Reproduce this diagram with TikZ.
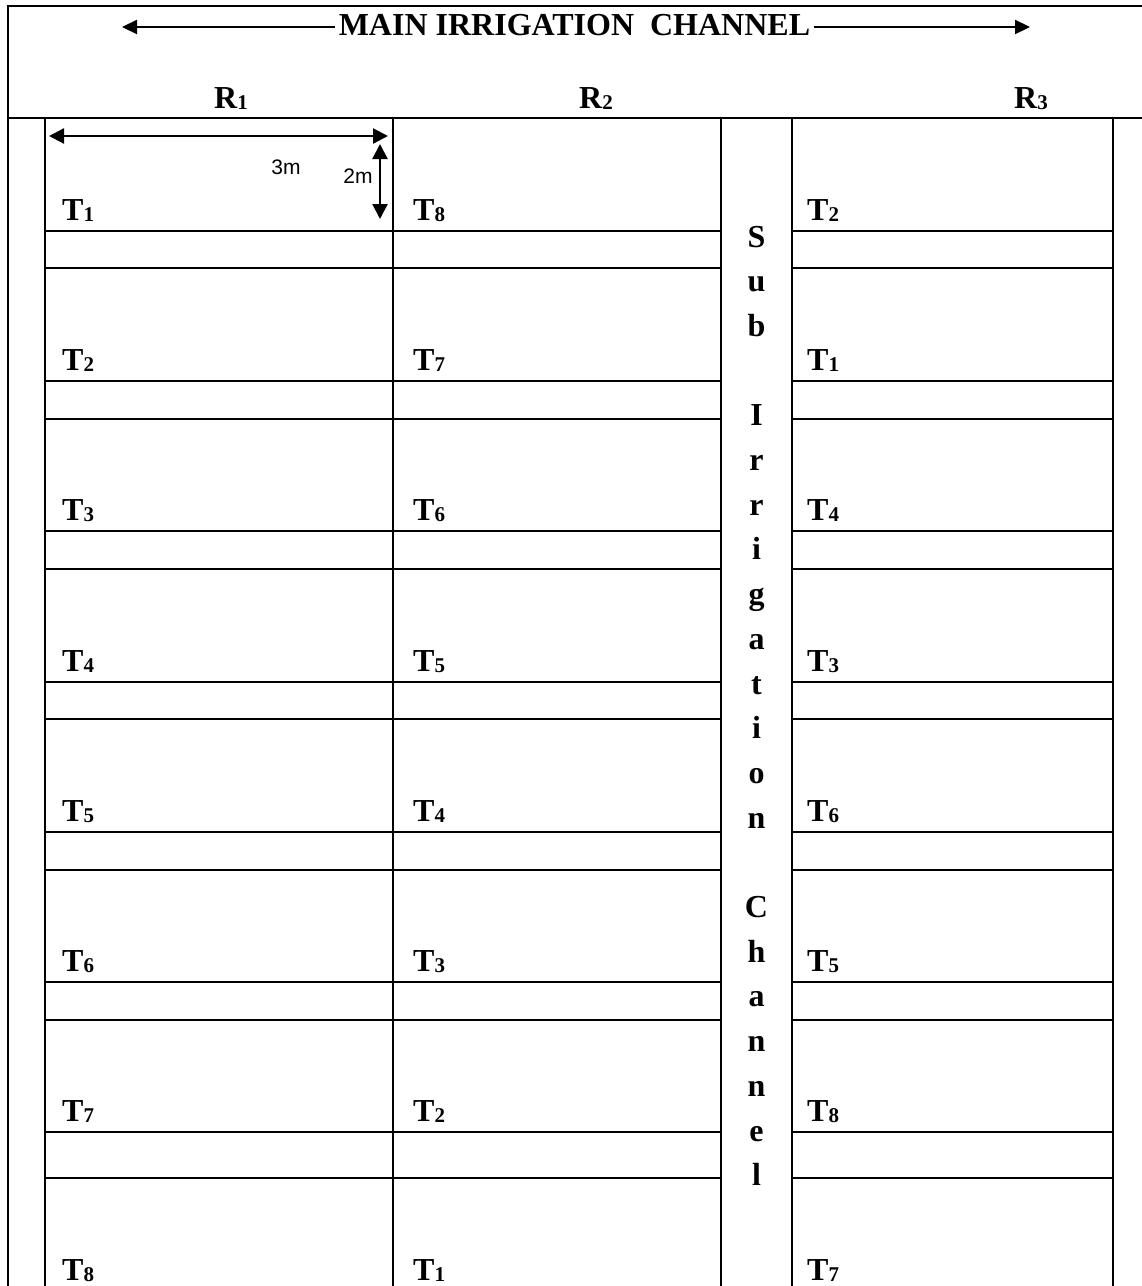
\documentclass[tikz,border=0pt]{standalone}
\usepackage{fontspec}
\setmainfont{Liberation Serif}
\newfontfamily\arialfont{Liberation Sans}
\usetikzlibrary{arrows.meta}
\newcommand\tsub[1]{\raisebox{-1pt}{\fontsize{21}{21}\selectfont #1}}
\begin{document}
\begin{tikzpicture}[x=1pt,y=-1pt,
  rule/.style={line width=2.3pt},
  dimarrow/.style={line width=2.2pt,{Triangle[length=15pt,width=15pt]}-{Triangle[length=15pt,width=15pt]}},
  headarrow/.style={line width=2.2pt,-{Triangle[length=15pt,width=14pt]}},
  tlabel/.style={anchor=base west,inner sep=0pt,font=\fontsize{32}{32}\selectfont\bfseries},
  rlabel/.style={anchor=base,inner sep=0pt,font=\fontsize{32}{32}\selectfont\bfseries},
  chletter/.style={anchor=base,inner sep=0pt,font=\fontsize{32}{32}\selectfont\bfseries},
  dimtext/.style={anchor=base,inner sep=0pt,font=\arialfont\fontsize{21}{21}\selectfont}]
\useasboundingbox (0,0) rectangle (1142,1286);
\begin{scope}
\clip (0,0) rectangle (1142,1286);
% outer frame and header
\draw[rule] (8,1290) -- (8,6) -- (1146,6);
\draw[rule] (8,118) -- (1146,118);
% columns
\foreach \x in {45,393,721,792,1113}
  \draw[rule] (\x,118) -- (\x,1290);
% plot and strip lines
\foreach \y in {231,268,381,419,531,569,682,719,832,870,982,1020,1132,1178}{
  \draw[rule] (45,\y) -- (721,\y);
  \draw[rule] (792,\y) -- (1113,\y);
}
\end{scope}
% title with arrows
\node[anchor=base,inner sep=4pt,font=\fontsize{32}{32}\selectfont\bfseries] (title) at (574.5,35) {MAIN IRRIGATION \ CHANNEL};
\coordinate (lt) at (122,27);
\coordinate (rt) at (1030,27);
\draw[headarrow] (title.west |- lt) -- (lt);
\draw[headarrow] (title.east |- rt) -- (rt);
% replication labels
\node[rlabel] (R1) at (231,108) {R\tsub{1}};
\node[rlabel] (R2) at (596,108) {R\tsub{2}};
\node[rlabel] (R3) at (1031,108) {R\tsub{3}};
% treatment labels
\foreach \a/\b/\c/\y [count=\i] in {1/8/2/220,2/7/1/370,3/6/4/520,4/5/3/671,5/4/6/821,6/3/5/971,7/2/8/1121,8/1/7/1280}{
  \node[tlabel] (ra\i) at (62,\y) {T\tsub{\a}};
  \node[tlabel] (rb\i) at (413,\y) {T\tsub{\b}};
  \node[tlabel] (rc\i) at (807,\y) {T\tsub{\c}};
}
% dimensions
\coordinate (dl) at (49,136);
\coordinate (dr) at (388,136);
\draw[dimarrow] (dl) -- (dr);
\coordinate (vt) at (380,144);
\coordinate (vb) at (380,219);
\draw[dimarrow] (vt) -- (vb);
\node[dimtext] (w3) at (286,174) {3m};
\node[dimtext] (h2) at (358,183) {2m};
% sub irrigation channel letters
\foreach \l [count=\k from 0] in {S,u,b,{},I,r,r,i,g,a,t,i,o,n,{},C,h,a,n,n,e,l}{
  \node[chletter] (ch\k) at (756.5,{247+44.7*\k}) {\l};
}
\end{tikzpicture}
\end{document}
